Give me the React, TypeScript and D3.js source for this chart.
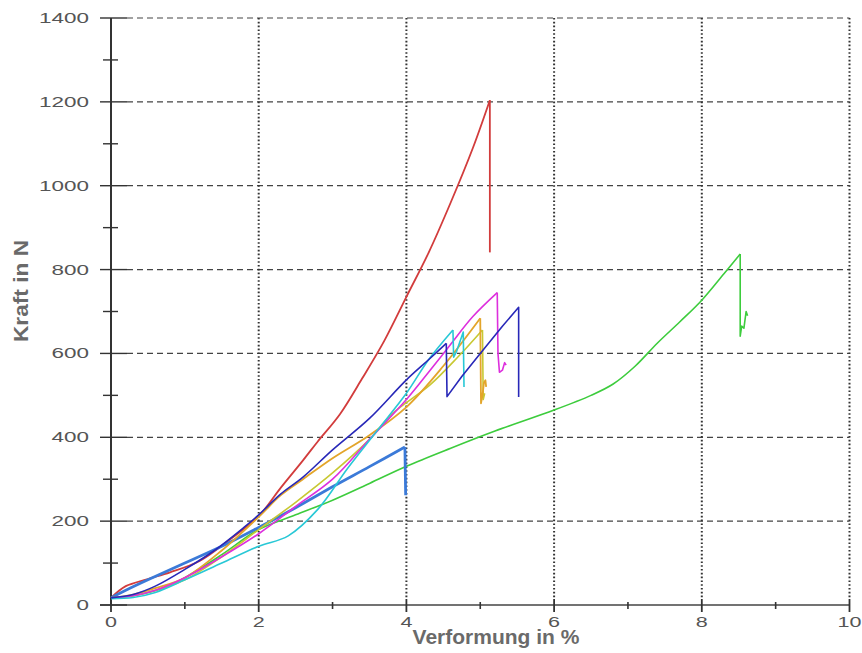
import React from "react";
import * as d3 from "d3";

type P = [number, number];

const xTicks = [0, 2, 4, 6, 8, 10];
const yTicks = [0, 200, 400, 600, 800, 1000, 1200, 1400];
const xMinor = [1, 3, 5, 7, 9];
const yMinor = [100, 300, 500, 700, 900, 1100, 1300];

const red: P[] = [[0,17],[0.2,45],[0.5,62],[0.8,78],[1.2,105],[1.6,155],[2,212],[2.3,280],[2.6,345],[2.8,390],[3.1,455],[3.4,540],[3.7,630],[4,735],[4.3,840],[4.6,960],[4.9,1090],[5.13,1204],[5.13,841]];
const green: P[] = [[0,17],[0.3,22],[0.7,40],[1,65],[1.5,120],[2,180],[2.5,215],[3,250],[3.5,290],[4,331],[4.6,374],[5.2,415],[6,465],[6.5,500],[6.8,527],[7.1,570],[7.4,625],[7.7,675],[8,727],[8.3,790],[8.52,837],[8.52,641],[8.54,665],[8.57,660],[8.6,700],[8.62,690]];
const steel: P[] = [[0,17],[0.2,35],[0.5,60],[1,100],[1.5,140],[2,185],[2.5,232],[3,282],[3.5,330],[3.98,377],[3.99,262]];
const navy: P[] = [[0,17],[0.3,25],[0.6,45],[1,85],[1.4,130],[1.8,185],[2,215],[2.3,265],[2.6,305],[3,370],[3.5,445],[4,537],[4.3,585],[4.54,624],[4.55,497],[4.75,545],[5,600],[5.3,665],[5.52,710],[5.52,496]];
const magenta: P[] = [[0,17],[0.3,22],[0.6,35],[1,65],[1.5,115],[2,170],[2.5,235],[3,300],[3.5,395],[4,490],[4.3,555],[4.6,622],[4.9,688],[5.23,745],[5.24,600],[5.26,555],[5.3,560],[5.33,578],[5.35,572]];
const cyan: P[] = [[0,15],[0.3,18],[0.6,30],[1,60],[1.5,100],[2,140],[2.4,165],[2.8,228],[3.2,325],[3.6,415],[4,505],[4.3,585],[4.63,656],[4.64,591],[4.68,605],[4.77,651],[4.78,520]];
const orange: P[] = [[0,17],[0.3,25],[0.6,40],[1,65],[1.5,130],[2,210],[2.3,262],[2.6,300],[3,350],[3.5,405],[4,472],[4.5,570],[5,684],[5.01,481],[5.03,500],[5.05,530],[5.07,536],[5.08,520]];
const yellow: P[] = [[0,17],[0.3,22],[0.6,35],[1,60],[1.5,115],[2,180],[2.5,245],[3,315],[3.5,395],[3.8,455],[4.32,525],[4.7,592],[5.03,656],[5.04,490],[5.06,505]];

const series: { data: P[]; color: string; width: number }[] = [
  { data: green, color: "#3dcc3d", width: 1.6 },
  { data: red, color: "#d23c3c", width: 1.8 },
  { data: steel, color: "#3b7ad8", width: 2.8 },
  { data: yellow, color: "#c8c832", width: 1.6 },
  { data: orange, color: "#e3a52a", width: 1.8 },
  { data: magenta, color: "#dd2fdd", width: 1.6 },
  { data: cyan, color: "#28c8d6", width: 1.6 },
  { data: navy, color: "#2828b8", width: 1.6 },
];

function splitAtFirstDrop(data: P[]): [P[], P[]] {
  let i = 1;
  while (i < data.length && data[i][1] >= data[i - 1][1]) i++;
  return [data.slice(0, i), data.slice(i - 1)];
}

export default function App() {
  const W = 862, H = 653;
  const x = d3.scaleLinear().domain([0, 10]).range([111, 849.5]);
  const y = d3.scaleLinear().domain([0, 1400]).range([605, 18]);
  const smooth = d3.line<P>().x((d) => x(d[0])).y((d) => y(d[1])).curve(d3.curveCatmullRom.alpha(0.5));
  const straight = d3.line<P>().x((d) => x(d[0])).y((d) => y(d[1]));
  const labelStyle = { fontFamily: "Liberation Sans, Arial, sans-serif", fontSize: 14, fill: "#555" } as const;

  return (
    <svg width={W} height={H} style={{ position: "absolute", left: 0, top: 0, background: "#fff" }}>
      {yTicks.filter((t) => t > 0).map((t) => (
        <line key={"hg" + t} x1={x(0) + 16} x2={x(10)} y1={y(t)} y2={y(t)} stroke="#444" strokeWidth={1.2} strokeDasharray="6,4" />
      ))}
      {xTicks.filter((t) => t > 0).map((t) => (
        <line key={"vg" + t} x1={x(t)} x2={x(t)} y1={y(1400)} y2={y(0) - 6} stroke="#333" strokeWidth={2} strokeDasharray="1.6,2.2" />
      ))}
      <line x1={x(0)} x2={x(0)} y1={y(1400)} y2={y(0) + 1} stroke="#333" strokeWidth={2} />
      <line x1={100} x2={x(10)} y1={y(0)} y2={y(0)} stroke="#444" strokeWidth={1.6} />
      {yTicks.map((t) => (
        <line key={"yt" + t} x1={100} x2={x(0) + 16} y1={y(t)} y2={y(t)} stroke="#333" strokeWidth={1.4} />
      ))}
      {yMinor.map((t) => (
        <line key={"ym" + t} x1={103} x2={118} y1={y(t)} y2={y(t)} stroke="#333" strokeWidth={1.4} />
      ))}
      {xTicks.map((t) => (
        <line key={"xt" + t} x1={x(t)} x2={x(t)} y1={y(0) - 6} y2={y(0) + 7} stroke="#333" strokeWidth={1.8} />
      ))}
      {xMinor.map((t) => (
        <line key={"xm" + t} x1={x(t)} x2={x(t)} y1={y(0) - 3} y2={y(0) + 4} stroke="#333" strokeWidth={1.6} />
      ))}
      {yTicks.map((t) => {
        const s = String(t);
        const len = s.length * 12.5;
        return (
          <text key={"yl" + t} x={89 - len} y={y(t) + 5} textLength={len} lengthAdjust="spacingAndGlyphs" {...labelStyle}>
            {s}
          </text>
        );
      })}
      {xTicks.map((t) => {
        const s = String(t);
        const len = s.length * 12;
        return (
          <text key={"xl" + t} x={x(t) - len / 2} y={627} textLength={len} lengthAdjust="spacingAndGlyphs" {...labelStyle}>
            {s}
          </text>
        );
      })}
      {series.map((s, i) => {
        const [rise, tail] = splitAtFirstDrop(s.data);
        return (
          <g key={"s" + i} fill="none" stroke={s.color} strokeWidth={s.width} strokeLinejoin="round">
            <path d={smooth(rise) || ""} />
            <path d={straight(tail) || ""} />
          </g>
        );
      })}
      <text x={496} y={644} textAnchor="middle" fontFamily="Liberation Sans, Arial, sans-serif" fontWeight="bold" fontSize={21} fill="#6a6a6a">
        Verformung in %
      </text>
      <text transform="translate(28,291) rotate(-90)" textAnchor="middle" fontFamily="Liberation Sans, Arial, sans-serif" fontWeight="bold" fontSize={21} fill="#6a6a6a" textLength={102} lengthAdjust="spacingAndGlyphs">
        Kraft in N
      </text>
    </svg>
  );
}
